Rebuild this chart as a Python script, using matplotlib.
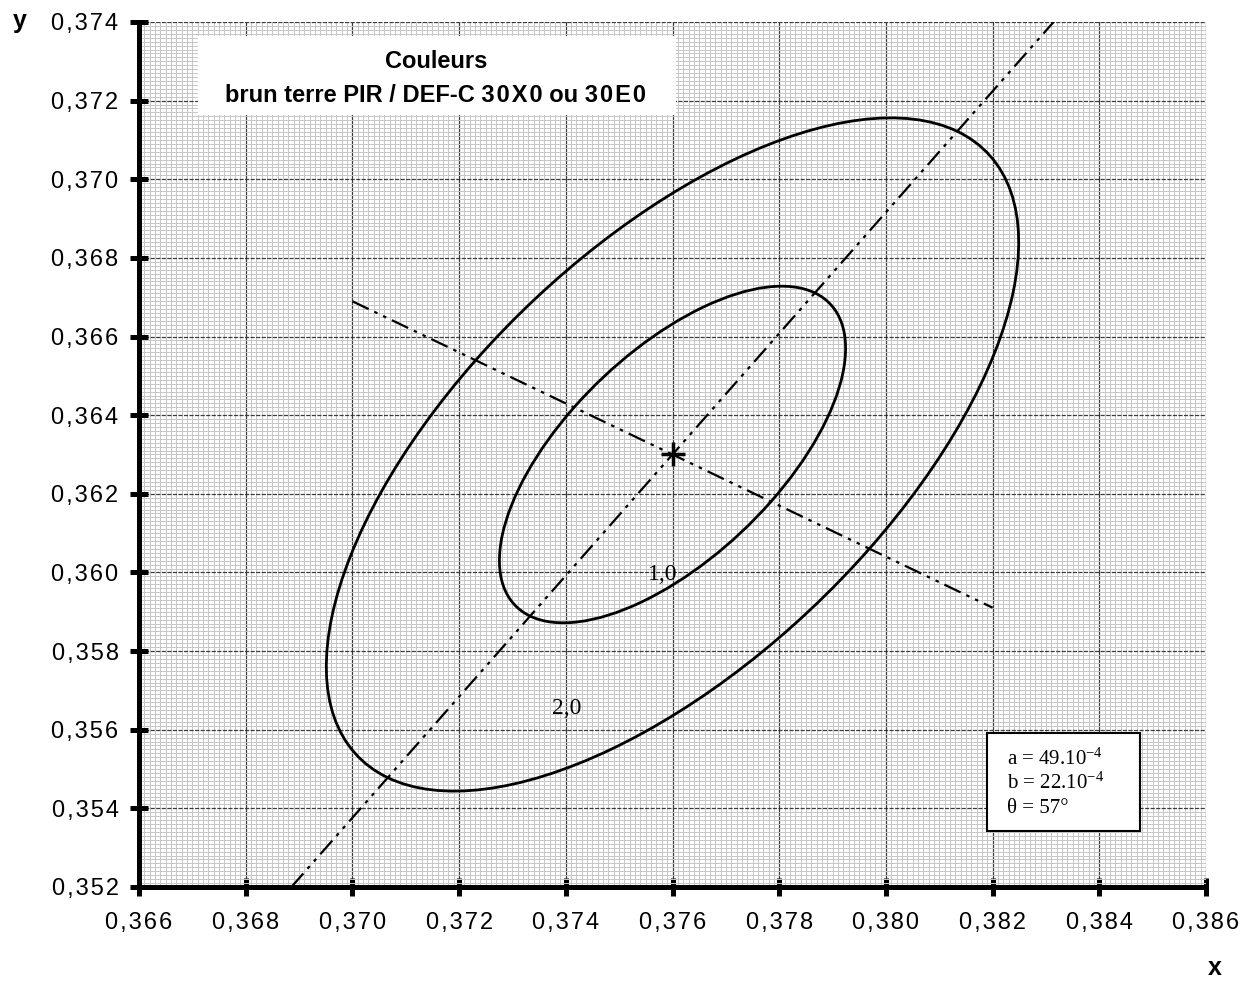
import numpy as np
import matplotlib
matplotlib.use("Agg")
import matplotlib.pyplot as plt
from matplotlib.patches import Ellipse, Rectangle
from matplotlib.ticker import MultipleLocator, FuncFormatter

# donnees
x_ticks = [0.366, 0.368, 0.370, 0.372, 0.374, 0.376, 0.378, 0.380, 0.382, 0.384, 0.386]
y_ticks = [0.352, 0.354, 0.356, 0.358, 0.360, 0.362, 0.364, 0.366, 0.368, 0.370, 0.372, 0.374]
center_x = 0.376
center_y = 0.363
a = 49e-4
b = 22e-4
theta = 57.0
levels = [1.0, 2.0]
level_labels = ["1,0", "2,0"]
minor_axis_x = [0.370, 0.382]
title_lines = ["Couleurs",
               "brun terre PIR / DEF-C 3\u200a0\u200aX\u200a0 ou 3\u200a0\u200aE\u200a0"]
param_lines = [r"a = 49.10$^{-4}$", r"b = 22.10$^{-4}$", "\u03b8 = 57\u00b0"]

plt.rcParams["font.family"] = ["Liberation Sans", "DejaVu Sans"]
plt.rcParams["mathtext.fontset"] = "custom"
plt.rcParams["mathtext.rm"] = "Liberation Serif"
plt.rcParams["mathtext.default"] = "regular"
plt.rcParams["lines.scale_dashes"] = False


def label(v, p):
    # virgule decimale, lettres un peu espacees
    return "\u200a".join(f"{v:.3f}".replace(".", ","))


fig = plt.figure(figsize=(12.53, 9.83), dpi=100)
ax = fig.add_axes([139 / 1253, 1 - 887 / 983, 1067 / 1253, 865 / 983])

ax.set_xlim(x_ticks[0], x_ticks[-1])
ax.set_ylim(y_ticks[0], y_ticks[-1])
ax.set_xticks(x_ticks)
ax.set_yticks(y_ticks)
ax.xaxis.set_minor_locator(MultipleLocator(0.0001))
ax.yaxis.set_minor_locator(MultipleLocator(0.0001))
ax.xaxis.set_major_formatter(FuncFormatter(label))
ax.yaxis.set_major_formatter(FuncFormatter(label))

# papier millimetre
ax.set_axisbelow(True)
ax.grid(which="minor", color="#c6c6c6", lw=0.7)
ax.grid(which="major", axis="x", color="#3c3c3c", lw=0.9)
ax.grid(which="major", axis="y", color="#3c3c3c", lw=0.9, linestyle=(0, (3, 1)))

ax.tick_params(which="minor", length=0)
ax.tick_params(which="major", direction="inout", length=13.5, width=3.6,
               labelsize=17, color="black")
ax.tick_params(axis="y", pad=8)
ax.tick_params(axis="x", pad=11)
for s in ["top", "right"]:
    ax.spines[s].set_visible(False)
for s in ["left", "bottom"]:
    ax.spines[s].set_linewidth(3.6)
    ax.spines[s].set_zorder(5)

# ellipses
for k in levels:
    e = Ellipse((center_x, center_y), width=2 * a * k, height=2 * b * k,
                angle=theta, fill=False, lw=2.0, edgecolor="black", zorder=3)
    ax.add_patch(e)

dash = (0, (13, 4.5, 2.5, 4.5, 2.5, 4.5))

# grand axe
slope = np.tan(np.radians(theta))
yy = np.array([y_ticks[0], y_ticks[-1]])
xx = center_x + (yy - center_y) / slope
ax.plot(xx, yy, color="black", lw=1.6, linestyle=dash, zorder=3)

# petit axe
slope2 = np.tan(np.radians(theta - 90))
xx2 = np.array(minor_axis_x)
yy2 = center_y + slope2 * (xx2 - center_x)
ax.plot(xx2, yy2, color="black", lw=1.6, linestyle=dash, zorder=3)

ax.plot(center_x, center_y, marker="+", ms=17, mew=2.5, color="black", zorder=4)

ax.text(0.4911, 0.3607, level_labels[0], transform=ax.transAxes, fontsize=17,
        family="Liberation Serif", ha="center", va="center", zorder=4)
ax.text(0.4011, 0.2069, level_labels[1], transform=ax.transAxes, fontsize=17,
        family="Liberation Serif", ha="center", va="center", zorder=4)

# cartouche titre
ax.add_patch(Rectangle((0.0553, 0.8925), 0.448, 0.0913, transform=ax.transAxes,
                       facecolor="white", edgecolor="none", zorder=4))
ax.text(0.2783, 0.9472, title_lines[0], transform=ax.transAxes, fontsize=17,
        fontweight="bold", ha="center", va="baseline", zorder=5)
ax.text(0.2783, 0.9077, title_lines[1], transform=ax.transAxes, fontsize=17,
        fontweight="bold", ha="center", va="baseline", zorder=5)

# cartouche parametres
ax.add_patch(Rectangle((0.7948, 0.0647), 0.1433, 0.1133, transform=ax.transAxes,
                       facecolor="white", edgecolor="black", lw=1.5, zorder=4))
for i, t in enumerate(param_lines):
    ax.text(0.8132, 0.1410 - i * 0.0278, t, transform=ax.transAxes, fontsize=15,
            family="Liberation Serif", ha="left", va="baseline", zorder=5)

fig.text(0.0156, 1 - 21 / 983, "y", fontsize=18, fontweight="bold",
         ha="center", va="center")
fig.text(0.9697, 1 - 968 / 983, "x", fontsize=18, fontweight="bold",
         ha="center", va="center")

fig.savefig("out.png", dpi=100)
